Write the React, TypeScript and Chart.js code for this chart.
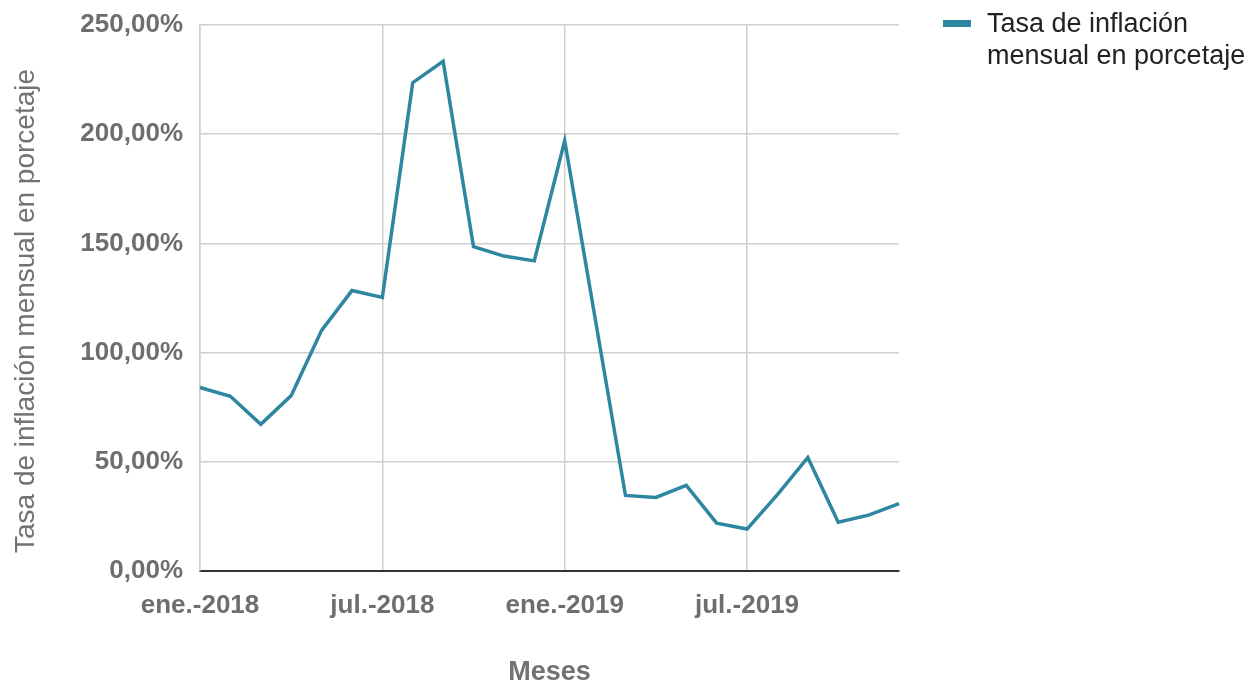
import React, { useEffect, useRef } from 'react';
import { Chart, registerables } from 'chart.js';

Chart.register(...registerables);

const months = [
  'ene.-2018', 'feb.-2018', 'mar.-2018', 'abr.-2018', 'may.-2018', 'jun.-2018',
  'jul.-2018', 'ago.-2018', 'sept.-2018', 'oct.-2018', 'nov.-2018', 'dic.-2018',
  'ene.-2019', 'feb.-2019', 'mar.-2019', 'abr.-2019', 'may.-2019', 'jun.-2019',
  'jul.-2019', 'ago.-2019', 'sept.-2019', 'oct.-2019', 'nov.-2019', 'dic.-2019',
];

const inflation: (number | null)[] = [
  84.0, 80.0, 67.2, 80.3, 110.2, 128.4, 125.3, 223.6, 233.4, 148.5, 144.2, 142.0,
  197.0, null, 34.6, 33.7, 39.2, 21.9, 19.2, 35.0, 52.0, 22.3, 25.6, 30.8,
];

const labeledMonths = ['ene.-2018', 'jul.-2018', 'ene.-2019', 'jul.-2019'];
const yTickValues = [0, 50, 100, 150, 200, 250];

const seriesLines = ['Tasa de inflación', 'mensual en porcetaje'];
const seriesName = seriesLines.join(' ');
const yTitle = 'Tasa de inflación mensual en porcetaje';
const xTitle = 'Meses';

const LINE_COLOR = '#2e87a0';
const TICK_COLOR = '#6e6e6e';
const TITLE_COLOR = '#727272';
const GRID_COLOR = '#cfcfcf';
const FONT = '"Liberation Sans", Arial, sans-serif';

const yTitlePlugin = {
  id: 'yTitlePlugin',
  afterDraw(chart: any) {
    const ctx = chart.ctx;
    const area = chart.chartArea;
    ctx.save();
    ctx.translate(26, (area.top + area.bottom) / 2 + 13);
    ctx.rotate(-Math.PI / 2);
    ctx.font = `normal 28px ${FONT}`;
    ctx.fillStyle = TITLE_COLOR;
    ctx.textAlign = 'center';
    ctx.textBaseline = 'middle';
    ctx.fillText(yTitle, 0, 0);
    ctx.restore();
  },
};

export default function App() {
  const canvasRef = useRef<HTMLCanvasElement | null>(null);

  useEffect(() => {
    const canvas = canvasRef.current;
    if (!canvas) return;
    const chart = new Chart(canvas, {
      type: 'line',
      data: {
        labels: months,
        datasets: [
          {
            label: seriesName,
            data: inflation,
            borderColor: LINE_COLOR,
            backgroundColor: LINE_COLOR,
            borderWidth: 3.5,
            pointRadius: 0,
            tension: 0,
            spanGaps: true,
          },
        ],
      },
      options: {
        animation: false,
        responsive: false,
        devicePixelRatio: 1,
        layout: { padding: { top: 25, right: 357, left: 0, bottom: 0 } },
        plugins: {
          legend: { display: false },
          tooltip: { enabled: false },
        },
        scales: {
          x: {
            type: 'category',
            offset: false,
            grid: {
              color: (ctx: any) =>
                labeledMonths.includes(months[ctx.index]) ? GRID_COLOR : 'rgba(0,0,0,0)',
              lineWidth: 1.5,
              drawTicks: false,
            },
            border: { display: true, color: '#333333', width: 2 },
            ticks: {
              autoSkip: false,
              maxRotation: 0,
              minRotation: 0,
              padding: 19,
              color: TICK_COLOR,
              font: { family: FONT, size: 26, weight: 'bold' },
              callback: (_v: any, i: number) =>
                labeledMonths.includes(months[i]) ? months[i] : '',
            },
            title: {
              display: true,
              text: xTitle,
              color: TITLE_COLOR,
              font: { family: FONT, size: 27, weight: 'bold' },
              padding: { top: 0, bottom: -9 },
            },
            afterFit: (s: any) => {
              s.height = 109;
              s.paddingLeft = 0;
              s.paddingRight = 0;
            },
          },
          y: {
            min: 0,
            max: 250,
            afterBuildTicks: (s: any) => {
              s.ticks = yTickValues.map((v) => ({ value: v }));
            },
            grid: { color: GRID_COLOR, lineWidth: 1.5, drawTicks: false },
            border: { display: true, color: GRID_COLOR, width: 1.5 },
            ticks: {
              padding: 17,
              color: TICK_COLOR,
              font: { family: FONT, size: 26, weight: 'bold' },
              callback: (v: any) => Number(v).toFixed(2).replace('.', ',') + '%',
            },
            title: { display: false },
            afterFit: (s: any) => {
              s.width = 200;
              s.paddingTop = 0;
              s.paddingBottom = 0;
            },
          },
        },
      },
      plugins: [yTitlePlugin],
    } as any);
    return () => chart.destroy();
  }, []);

  return (
    <div style={{ position: 'fixed', left: 0, top: 0, width: 1256, height: 680, background: '#fff' }}>
      <canvas ref={canvasRef} width={1256} height={680} style={{ width: 1256, height: 680, display: 'block' }} />
      <div
        style={{
          position: 'absolute',
          left: 943,
          top: 20,
          width: 28,
          height: 7,
          background: LINE_COLOR,
        }}
      />
      <div
        style={{
          position: 'absolute',
          left: 987,
          top: 7,
          fontFamily: FONT,
          fontSize: 27,
          lineHeight: '32px',
          color: '#222222',
          whiteSpace: 'nowrap',
        }}
      >
        {seriesLines.map((l) => (
          <div key={l}>{l}</div>
        ))}
      </div>
    </div>
  );
}
